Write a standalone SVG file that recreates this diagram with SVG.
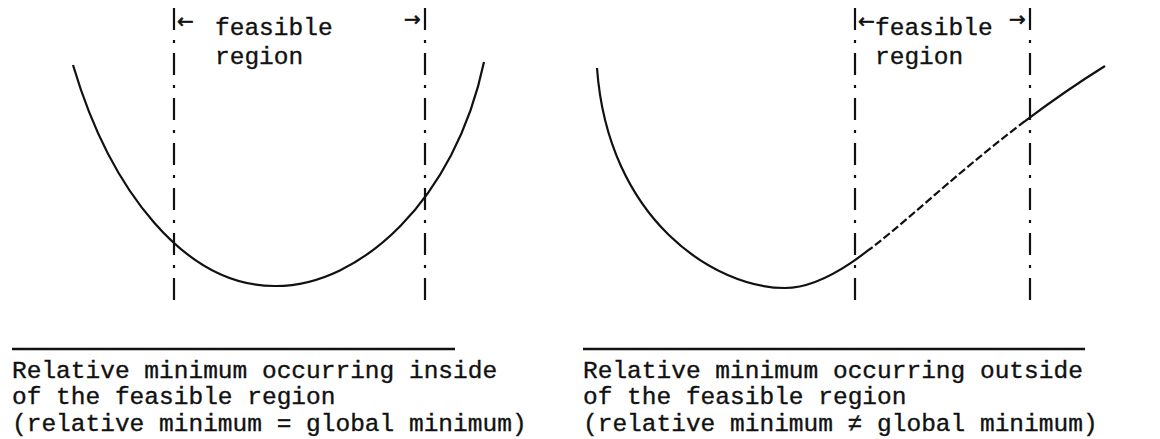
<svg xmlns="http://www.w3.org/2000/svg" width="1160" height="439" viewBox="0 0 1160 439">
<style>
.t{font-family:"Liberation Mono","DejaVu Sans Mono",monospace;font-size:24.5px;fill:#111;stroke:#111;stroke-width:0.35}
.ar{font-family:"DejaVu Sans","Liberation Sans",sans-serif;font-size:20px;fill:#111;stroke:#111;stroke-width:0.6}
.dd{stroke:#111;stroke-width:2.2;fill:none;stroke-dasharray:22 10 3 10}
.cv{stroke:#111;stroke-width:2.2;fill:none}
.rule{stroke:#111;stroke-width:2.5}
</style>
<defs>
<clipPath id="outR"><rect x="0" y="0" width="870" height="439"/><rect x="1025" y="0" width="135" height="439"/></clipPath>
<clipPath id="inR"><rect x="870" y="0" width="155" height="439"/></clipPath>
</defs>
<rect width="1160" height="439" fill="#fff"/>
<g id="left-plot">
<g id="left-bounds">
<line class="dd" x1="174" y1="8" x2="174" y2="306"/>
<line class="dd" x1="425" y1="8" x2="425" y2="306"/>
</g>
<g id="left-label">
<text class="ar" x="177" y="28">←</text>
<text class="t" x="215" y="35">feasible</text>
<text class="t" x="215" y="64">region</text>
<text class="ar" x="404" y="26">→</text>
</g>
<path id="left-curve" class="cv" d="M73,65 C110,190 185,287 276,286 C360,286 455,200 484,62"/>
</g>
<g id="right-plot">
<g id="right-bounds">
<line class="dd" x1="855" y1="8" x2="855" y2="306"/>
<line class="dd" x1="1030" y1="8" x2="1030" y2="306"/>
</g>
<g id="right-label">
<text class="ar" x="858" y="28">←</text>
<text class="t" x="875" y="35">feasible</text>
<text class="t" x="875" y="64">region</text>
<text class="ar" x="1009" y="26">→</text>
</g>
<g id="right-curve">
<path class="cv" clip-path="url(#outR)" d="M597,68 C608,220 715,288 785,288 C860,288 935,172 1105,66"/>
<path class="cv" clip-path="url(#inR)" stroke-dasharray="8 3" d="M597,68 C608,220 715,288 785,288 C860,288 935,172 1105,66"/>
</g>
</g>
<g id="left-caption">
<line class="rule" x1="12" y1="349" x2="455" y2="349"/>
<text class="t" x="12" y="378">Relative minimum occurring inside</text>
<text class="t" x="12" y="404">of the feasible region</text>
<text class="t" x="12" y="431">(relative minimum = global minimum)</text>
</g>
<g id="right-caption">
<line class="rule" x1="583" y1="349" x2="1085" y2="349"/>
<text class="t" x="583" y="378">Relative minimum occurring outside</text>
<text class="t" x="583" y="404">of the feasible region</text>
<text class="t" x="583" y="431">(relative minimum ≠ global minimum)</text>
</g>
</svg>
